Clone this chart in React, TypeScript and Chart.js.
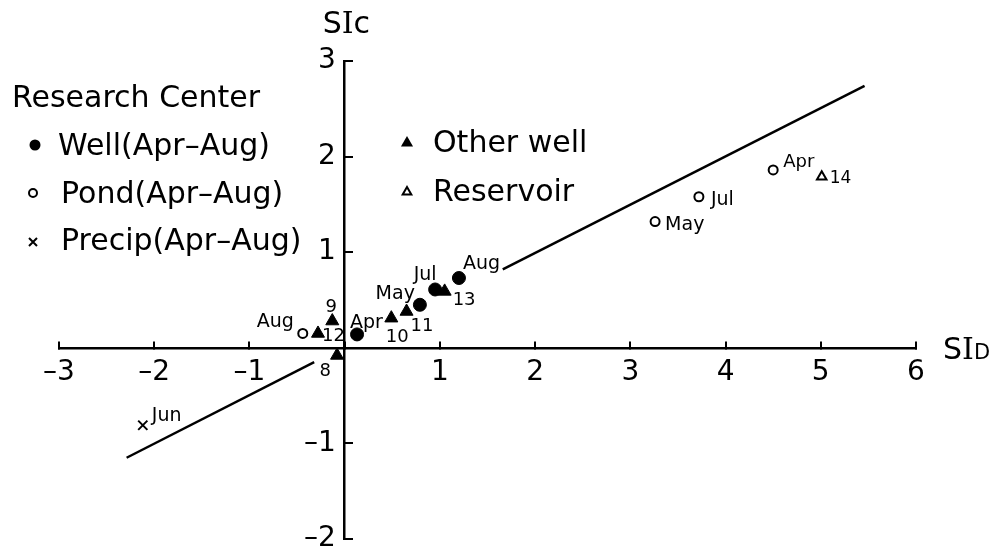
import React, { useEffect, useRef } from 'react';
import { Chart, registerables } from 'chart.js';

Chart.register(...registerables);

const FONT = '"DejaVu Sans", sans-serif';

// ---- tick values / labels ----
const xTickValues = [-3, -2, -1, 0, 1, 2, 3, 4, 5, 6];
const xTickLabels = ['–3', '–2', '–1', '', '1', '2', '3', '4', '5', '6'];
const yTickValues = [-2, -1, 0, 1, 2, 3];
const yTickLabels = ['–2', '–1', '', '1', '2', '3'];

// ---- data: Research Center well (filled circles) ----
const wellLabels = ['Apr', 'May', 'Jul', 'Aug'];
const wellX = [0.13, 0.79, 0.95, 1.2];
const wellY = [0.14, 0.45, 0.61, 0.73];

// ---- Pond (open circles) ----
const pondLabels = ['Aug', 'May', 'Jul', 'Apr'];
const pondX = [-0.44, 3.26, 3.72, 4.5];
const pondY = [0.15, 1.32, 1.58, 1.86];

// ---- Precip (cross) ----
const precipLabels = ['Jun'];
const precipX = [-2.12];
const precipY = [-0.81];

// ---- Other well (filled triangles) ----
const otherLabels = ['8', '9', '12', '10', '11', '13'];
const otherX = [-0.08, -0.13, -0.28, 0.49, 0.65, 1.05];
const otherY = [-0.08, 0.28, 0.15, 0.31, 0.38, 0.59];

// ---- Reservoir (open triangle) ----
const reservoirLabels = ['14'];
const reservoirX = [5.01];
const reservoirY = [1.79];

// ---- reference line (two segments) ----
const lineLowerX = [-2.29, -0.32];
const lineLowerY = [-1.15, -0.15];
const lineUpperX = [1.66, 5.46];
const lineUpperY = [0.82, 2.74];

// ---- label placement styles: [dx, dy(baseline), align, fontSize] ----
type LP = [number, number, CanvasTextAlign, number];
const wellLabelPos: LP[] = [[-7, -6, 'left', 19], [-5, -6, 'right', 19], [-10, -9, 'center', 19], [4, -9, 'left', 19]];
const pondLabelPos: LP[] = [[-9, -6, 'right', 19], [10, 8, 'left', 19], [12, 8, 'left', 19], [10, -3, 'left', 18]];
const precipLabelPos: LP[] = [[9, -4, 'left', 19]];
const otherLabelPos: LP[] = [[-6, 21, 'right', 18], [-1, -9, 'center', 18], [4, 8, 'left', 18], [6, 24, 'center', 18], [4, 20, 'left', 18], [8, 14, 'left', 18]];
const reservoirLabelPos: LP[] = [[8, 6, 'left', 17]];

const pts = (xs: number[], ys: number[]) => xs.map((x, i) => ({ x, y: ys[i] }));

const labelSets: Record<number, { labels: string[]; pos: LP[] }> = {
  0: { labels: wellLabels, pos: wellLabelPos },
  1: { labels: pondLabels, pos: pondLabelPos },
  2: { labels: precipLabels, pos: precipLabelPos },
  3: { labels: otherLabels, pos: otherLabelPos },
  4: { labels: reservoirLabels, pos: reservoirLabelPos },
};

const pointLabelPlugin = {
  id: 'pointLabels',
  afterDatasetsDraw(chart: any) {
    const ctx = chart.ctx;
    Object.keys(labelSets).forEach((k) => {
      const i = Number(k);
      const set = labelSets[i];
      const meta = chart.getDatasetMeta(i);
      meta.data.forEach((el: any, j: number) => {
        const [dx, dy, align, size] = set.pos[j];
        ctx.save();
        ctx.font = `${size}px ${FONT}`;
        ctx.fillStyle = '#000';
        ctx.textAlign = align;
        ctx.textBaseline = 'alphabetic';
        ctx.fillText(set.labels[j], el.x + dx, el.y + dy);
        ctx.restore();
      });
    });
  },
};

const annotationPlugin = {
  id: 'legendAndTitles',
  afterDraw(chart: any) {
    const ctx: CanvasRenderingContext2D = chart.ctx;
    const area = chart.chartArea;
    const x0 = chart.scales.x.getPixelForValue(0);
    const y0 = chart.scales.y.getPixelForValue(0);
    ctx.save();
    ctx.fillStyle = '#000';
    ctx.strokeStyle = '#000';
    ctx.textBaseline = 'alphabetic';
    ctx.textAlign = 'left';

    // axis titles
    const drawParts = (parts: [string, string][], x: number, y: number) => {
      let cx = x;
      parts.forEach(([t, f]) => {
        ctx.font = f;
        ctx.fillText(t, cx, y);
        cx += ctx.measureText(t).width;
      });
    };
    drawParts([['S', `30px ${FONT}`], ['I', `30px "DejaVu Serif", serif`], ['c', `30px ${FONT}`]], x0 - 22, area.top - 28);
    drawParts([['S', `30px ${FONT}`], ['I', `30px "DejaVu Serif", serif`], ['D', `21px ${FONT}`]], area.right + 27, y0 + 11);

    // legend (left)
    ctx.font = `30px ${FONT}`;
    ctx.fillText('Research Center', 12, 107);
    ctx.fillText('Well(Apr–Aug)', 58, 155);
    ctx.fillText('Pond(Apr–Aug)', 61, 203);
    ctx.fillText('Precip(Apr–Aug)', 61, 250);
    ctx.fillText('Other well', 433, 152);
    ctx.fillText('Reservoir', 433, 201);

    // legend markers
    ctx.beginPath();
    ctx.arc(35, 145, 5.5, 0, Math.PI * 2);
    ctx.fill();
    ctx.lineWidth = 2;
    ctx.beginPath();
    ctx.arc(33, 193, 4, 0, Math.PI * 2);
    ctx.stroke();
    ctx.beginPath();
    ctx.moveTo(29, 238); ctx.lineTo(37, 246);
    ctx.moveTo(37, 238); ctx.lineTo(29, 246);
    ctx.stroke();
    const tri = (cx: number, cy: number, r: number, fill: boolean) => {
      ctx.beginPath();
      ctx.moveTo(cx, cy - r);
      ctx.lineTo(cx + r * 0.866, cy + r * 0.5);
      ctx.lineTo(cx - r * 0.866, cy + r * 0.5);
      ctx.closePath();
      if (fill) ctx.fill(); else ctx.stroke();
    };
    tri(407, 143, 7, true);
    ctx.lineWidth = 2;
    tri(407, 192, 5, false);
    ctx.restore();
  },
};

export default function App() {
  const ref = useRef<HTMLCanvasElement | null>(null);

  useEffect(() => {
    if (!ref.current) return;
    const chart = new Chart(ref.current, {
      type: 'scatter',
      data: {
        datasets: [
          {
            label: 'Well (Apr-Aug)',
            data: pts(wellX, wellY),
            pointStyle: 'circle',
            pointRadius: 6.5,
            backgroundColor: '#000',
            borderColor: '#000',
            borderWidth: 1,
          },
          {
            label: 'Pond (Apr-Aug)',
            data: pts(pondX, pondY),
            pointStyle: 'circle',
            pointRadius: 4.5,
            backgroundColor: '#fff',
            borderColor: '#000',
            borderWidth: 2,
          },
          {
            label: 'Precip (Apr-Aug)',
            data: pts(precipX, precipY),
            pointStyle: 'crossRot',
            pointRadius: 6.5,
            borderColor: '#000',
            borderWidth: 2,
          },
          {
            label: 'Other well',
            data: pts(otherX, otherY),
            pointStyle: 'triangle',
            pointRadius: 7.5,
            backgroundColor: '#000',
            borderColor: '#000',
            borderWidth: 1,
          },
          {
            label: 'Reservoir',
            data: pts(reservoirX, reservoirY),
            pointStyle: 'triangle',
            pointRadius: 5.5,
            backgroundColor: '#fff',
            borderColor: '#000',
            borderWidth: 2,
          },
          {
            label: 'line-lower',
            data: pts(lineLowerX, lineLowerY),
            showLine: true,
            pointRadius: 0,
            borderColor: '#000',
            borderWidth: 2.5,
          },
          {
            label: 'line-upper',
            data: pts(lineUpperX, lineUpperY),
            showLine: true,
            pointRadius: 0,
            borderColor: '#000',
            borderWidth: 2.5,
          },
        ],
      },
      options: {
        animation: false,
        responsive: false,
        devicePixelRatio: 1,
        events: [],
        layout: { padding: { left: 59, right: 73, top: 61, bottom: 19 } },
        plugins: { legend: { display: false }, tooltip: { enabled: false } },
        scales: {
          x: {
            type: 'linear',
            min: -3,
            max: 6,
            position: { y: 0 } as any,
            afterBuildTicks: (s: any) => {
              s.ticks = xTickValues.map((v) => ({ value: v }));
            },
            ticks: {
              callback: (_v: any, i: number) => xTickLabels[i],
              color: '#000',
              font: { family: FONT, size: 28 },
              padding: 16,
              maxRotation: 0,
              autoSkip: false,
            },
            grid: { drawOnChartArea: false, drawTicks: true, tickLength: -8, color: '#000', lineWidth: 2 },
            border: { display: true, color: '#000', width: 2.5 },
          },
          y: {
            type: 'linear',
            min: -2,
            max: 3,
            position: { x: 0 } as any,
            afterBuildTicks: (s: any) => {
              s.ticks = yTickValues.map((v) => ({ value: v }));
            },
            ticks: {
              callback: (_v: any, i: number) => (yTickLabels[i] ? yTickLabels[i] + ' ' : ''),
              color: '#000',
              font: { family: FONT, size: 28 },
              padding: 0,
              autoSkip: false,
            },
            grid: { drawOnChartArea: false, drawTicks: true, tickLength: -10, color: '#000', lineWidth: 2 },
            border: { display: true, color: '#000', width: 2.5 },
          },
        },
      },
      plugins: [pointLabelPlugin, annotationPlugin],
    });
    return () => chart.destroy();
  }, []);

  return (
    <canvas
      ref={ref}
      width={989}
      height={558}
      style={{ position: 'fixed', left: 0, top: 0, width: 989, height: 558, background: '#fff' }}
    />
  );
}
